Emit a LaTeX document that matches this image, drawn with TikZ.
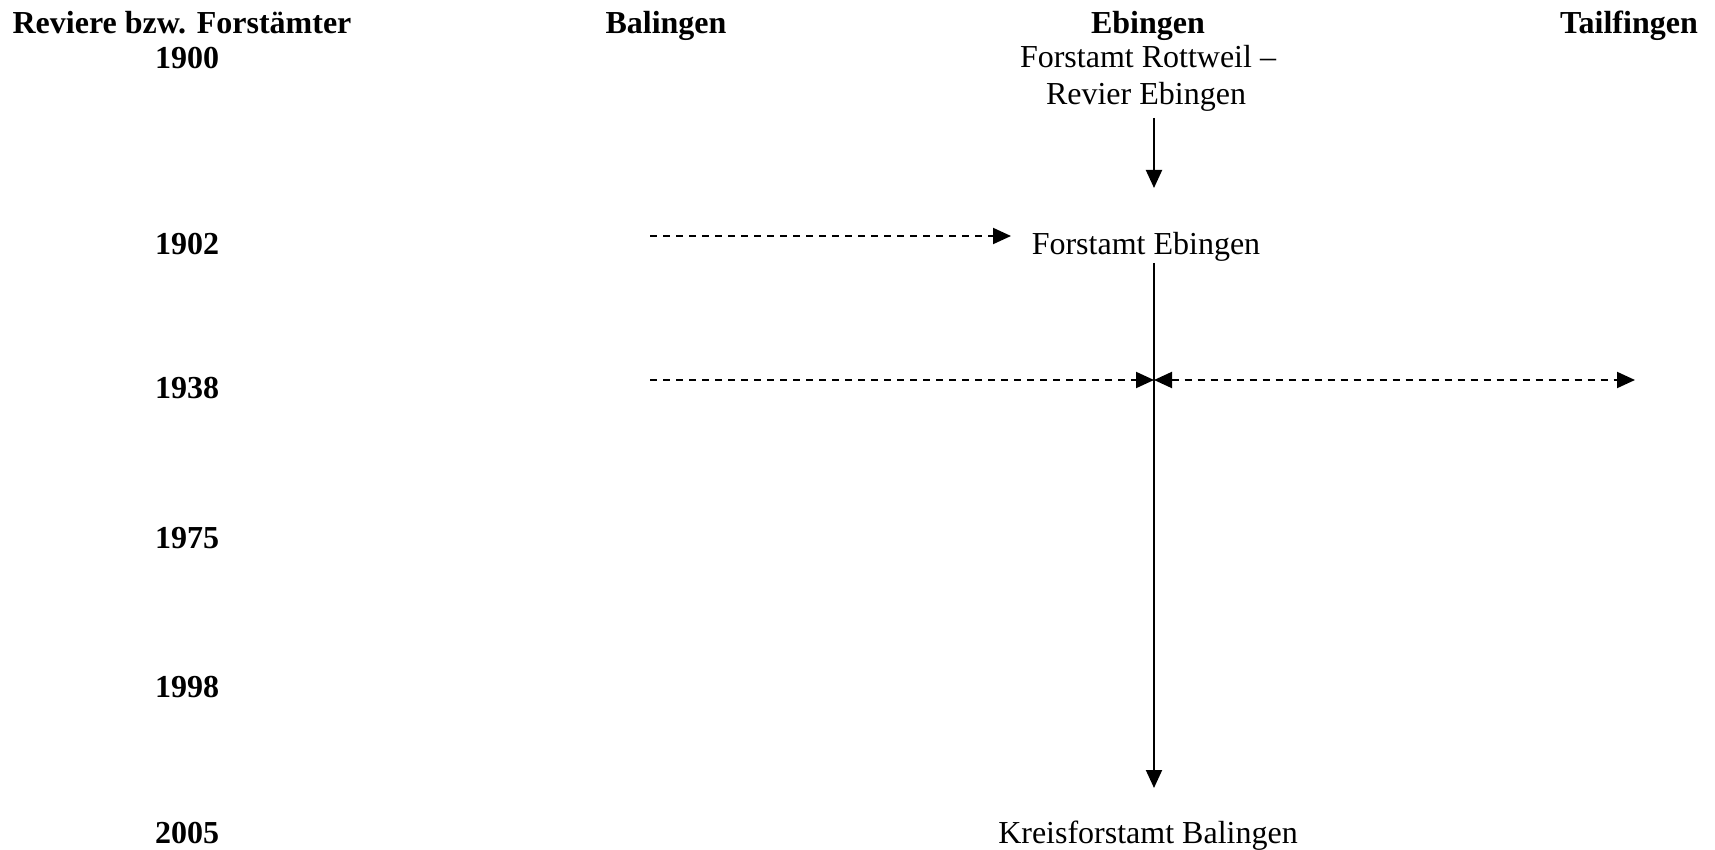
\documentclass[tikz,border=0pt]{standalone}
\usepackage{fontspec}
\setmainfont{Liberation Serif}
\usetikzlibrary{arrows.meta}
\begin{document}
\begin{tikzpicture}[x=0.5pt,y=-0.5pt,
  txt/.style={anchor=base,inner sep=0pt,font=\fontsize{16}{19}\selectfont},
  hdr/.style={txt,font=\fontsize{16}{19}\selectfont\bfseries},
  conn/.style={line width=1pt,-{Triangle[length=9pt,width=8pt]}},
  dconn/.style={conn,dash pattern=on 3.5pt off 3pt}]
\useasboundingbox (0,0) rectangle (1715,850);
% headers
\node[hdr] (hrev) at (182,34) {Reviere bzw. Forstämter};
\node[hdr] (hbal) at (666,34) {Balingen};
\node[hdr] (hebi) at (1148,34) {Ebingen};
\node[hdr] (htai) at (1629,34) {Tailfingen};
% years
\node[hdr] (y1900) at (187,69) {1900};
\node[hdr] (y1902) at (187,255) {1902};
\node[hdr] (y1938) at (187,399) {1938};
\node[hdr] (y1975) at (187,548) {1975};
\node[hdr] (y1998) at (187,697) {1998};
\node[hdr] (y2005) at (187,843) {2005};
% entries
\node[txt] (rott) at (1148,68) {Forstamt Rottweil –};
\node[txt] (rev) at (1146,105) {Revier Ebingen};
\node[txt] (feb) at (1146,255) {Forstamt Ebingen};
\node[txt] (kfa) at (1148,843) {Kreisforstamt Balingen};
% connector ends
\coordinate (a1s) at (1154,118);
\coordinate (a1e) at (1154,188);
\coordinate (a2s) at (1154,263);
\coordinate (a2e) at (1154,788);
\coordinate (b1s) at (650,236);
\coordinate (b1e) at (1011,236);
\coordinate (b2s) at (650,380);
\coordinate (x38) at (1154,380);
\coordinate (t38) at (1635,380);
% connectors
\draw[conn] (a1s) -- (a1e);
\draw[conn] (a2s) -- (a2e);
\draw[dconn] (b1s) -- (b1e);
\draw[dconn] (b2s) -- (x38);
\draw[dconn,{Triangle[length=9pt,width=8pt]}-{Triangle[length=9pt,width=8pt]}] (x38) -- (t38);
\end{tikzpicture}
\end{document}
